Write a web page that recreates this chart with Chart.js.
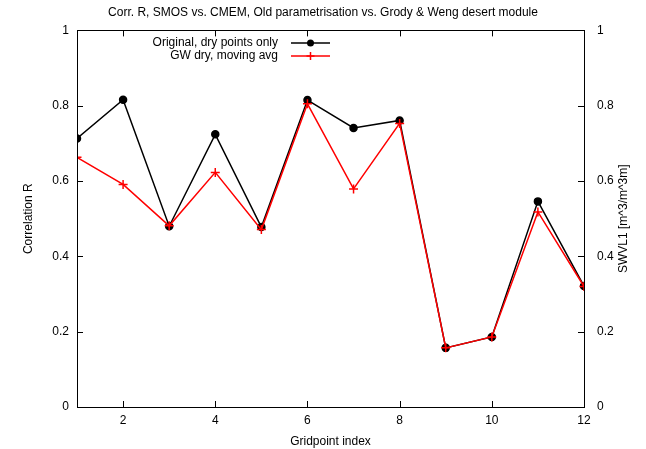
<!DOCTYPE html>
<html>
<head>
<meta charset="utf-8">
<script src="https://cdn.jsdelivr.net/npm/chart.js@4"></script>
<style>
  html, body { margin: 0; padding: 0; background: #fff; }
  #box { width: 646px; height: 449px; }
</style>
</head>
<body>
<div id="box"><canvas id="myChart"></canvas></div>
<script>
const gridpoints = [1, 2, 3, 4, 5, 6, 7, 8, 9, 10, 11, 12];
const originalDry = [0.713, 0.816, 0.480, 0.724, 0.478, 0.815, 0.741, 0.761, 0.157, 0.186, 0.546, 0.321];
const gwDryAvg = [0.663, 0.591, 0.481, 0.623, 0.471, 0.805, 0.579, 0.753, 0.157, 0.186, 0.518, 0.320];
const xTicks = [2, 4, 6, 8, 10, 12];
const yTicks = [0, 0.2, 0.4, 0.6, 0.8, 1];

const fontFam = "'Liberation Sans', 'DejaVu Sans', sans-serif";

// gnuplot style: inward ticks on all four sides, rotated axis titles, key with text left of sample
const gnuplotBits = {
  id: 'gnuplotBits',
  afterDatasetsDraw(chart) {
    const ctx = chart.ctx;
    const a = chart.chartArea;
    const x = chart.scales.x, y = chart.scales.y, y2 = chart.scales.y2;
    ctx.save();
    ctx.strokeStyle = '#000';
    ctx.lineWidth = 1;
    ctx.beginPath();
    xTicks.forEach(v => {
      const px = Math.round(x.getPixelForValue(v)) + 0.5;
      ctx.moveTo(px, a.bottom); ctx.lineTo(px, a.bottom - 6);
      ctx.moveTo(px, a.top); ctx.lineTo(px, a.top + 6);
    });
    yTicks.forEach(v => {
      const py = Math.round(y.getPixelForValue(v)) + 0.5;
      ctx.moveTo(a.left, py); ctx.lineTo(a.left + 6, py);
      const py2 = Math.round(y2.getPixelForValue(v)) + 0.5;
      ctx.moveTo(a.right, py2); ctx.lineTo(a.right - 6, py2);
    });
    ctx.stroke();
    ctx.strokeRect(Math.round(a.left) + 0.5, Math.round(a.top) + 0.5,
      Math.round(a.right - a.left), Math.round(a.bottom - a.top));

    ctx.font = '12px ' + fontFam;
    ctx.fillStyle = '#000';
    ctx.textAlign = 'center';
    ctx.textBaseline = 'middle';
    const midY = (a.top + a.bottom) / 2;
    [['Correlation R', 29], ['SWVL1 [m^3/m^3m]', 624]].forEach(([t, tx]) => {
      ctx.save();
      ctx.translate(tx, midY);
      ctx.rotate(-Math.PI / 2);
      ctx.fillText(t, 0, 0);
      ctx.restore();
    });

    // key
    ctx.textAlign = 'right';
    const rows = [
      { text: 'Original, dry points only', color: '#000', y: 43, dot: true },
      { text: 'GW dry, moving avg', color: '#ff0000', y: 56, dot: false }
    ];
    rows.forEach(r => {
      ctx.fillStyle = '#000';
      ctx.fillText(r.text, 278, r.y);
      ctx.strokeStyle = r.color;
      ctx.lineWidth = 1.5;
      ctx.beginPath();
      ctx.moveTo(291, r.y); ctx.lineTo(330, r.y);
      ctx.stroke();
      if (r.dot) {
        ctx.fillStyle = r.color;
        ctx.beginPath(); ctx.arc(310.5, r.y, 3.5, 0, Math.PI * 2); ctx.fill();
      } else {
        ctx.beginPath();
        ctx.moveTo(306.5, r.y); ctx.lineTo(314.5, r.y);
        ctx.moveTo(310.5, r.y - 4); ctx.lineTo(310.5, r.y + 4);
        ctx.stroke();
      }
    });
    ctx.restore();
  }
};

const data = {
  datasets: [{
    label: 'Original, dry points only',
    data: gridpoints.map((g, i) => ({ x: g, y: originalDry[i] })),
    borderColor: '#000',
    backgroundColor: '#000',
    borderWidth: 1.5,
    pointRadius: 3.5,
    pointStyle: 'circle',
    order: 2,
    yAxisID: 'y'
  }, {
    label: 'GW dry, moving avg',
    data: gridpoints.map((g, i) => ({ x: g, y: gwDryAvg[i] })),
    borderColor: '#ff0000',
    backgroundColor: '#ff0000',
    borderWidth: 1.5,
    pointRadius: 4.5,
    pointBorderWidth: 1.5,
    pointStyle: 'cross',
    order: 1,
    yAxisID: 'y'
  }]
};

const tickFont = { family: fontFam, size: 12 };

const config = {
  type: 'line',
  data: data,
  plugins: [gnuplotBits],
  options: {
    responsive: false,
    animation: false,
    layout: { padding: 0 },
    plugins: {
      legend: { display: false },
      tooltip: { enabled: false },
      title: {
        display: true,
        text: 'Corr. R, SMOS vs. CMEM, Old parametrisation vs. Grody & Weng desert module',
        color: '#000',
        font: { family: fontFam, size: 12, weight: 'normal' },
        padding: { top: 5, bottom: 11 }
      }
    },
    scales: {
      x: {
        type: 'linear',
        min: 1, max: 12,
        afterBuildTicks: s => { s.ticks = xTicks.map(v => ({ value: v })); },
        afterFit: s => { s.height = 42; },
        grid: { display: false, drawTicks: false },
        border: { display: false },
        ticks: { color: '#000', font: tickFont, padding: 6, maxRotation: 0 },
        title: { display: true, text: 'Gridpoint index', color: '#000', font: tickFont, padding: { top: 2, bottom: 0 } }
      },
      y: {
        position: 'left',
        min: 0, max: 1,
        afterBuildTicks: s => { s.ticks = yTicks.map(v => ({ value: v })); },
        afterFit: s => { s.width = 77; },
        grid: { display: false, drawTicks: false },
        border: { display: false },
        ticks: { color: '#000', font: tickFont, padding: 8, callback: v => String(+v.toFixed(1)) }
      },
      y2: {
        position: 'right',
        min: 0, max: 1,
        afterBuildTicks: s => { s.ticks = yTicks.map(v => ({ value: v })); },
        afterFit: s => { s.width = 62; },
        grid: { display: false, drawTicks: false },
        border: { display: false },
        ticks: { color: '#000', font: tickFont, padding: 13, callback: v => String(+v.toFixed(1)) }
      }
    }
  }
};

const canvas = document.getElementById('myChart');
canvas.width = 646;
canvas.height = 449;
const myChart = new Chart(canvas.getContext('2d'), config);
</script>
</body>
</html>
